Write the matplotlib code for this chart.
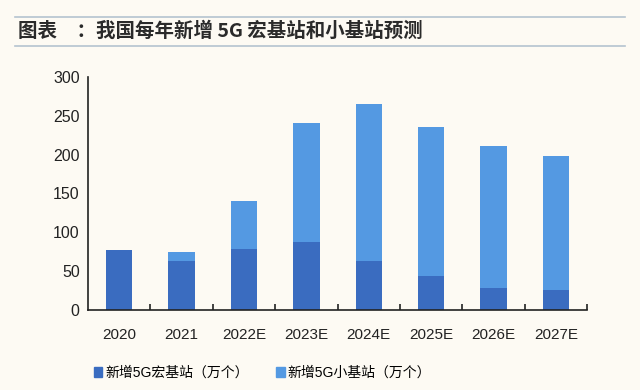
import matplotlib.pyplot as plt
from matplotlib.lines import Line2D
from matplotlib.patches import Patch

plt.rcParams['font.family'] = ['Liberation Sans', 'Noto Sans CJK SC', 'DejaVu Sans']

# data (unit: 10k stations)
years = ['2020', '2021', '2022E', '2023E', '2024E', '2025E', '2026E', '2027E']
macro = [77, 63, 78, 88, 63, 44, 28, 26]
small = [0, 12, 62, 153, 202, 192, 183, 172]
labels = ['新增5G宏基站（万个）', '新增5G小基站（万个）']
title = '图表　：我国每年新增 5G 宏基站和小基站预测'

c_macro = '#3a6cc0'
c_small = '#5499e2'
bg = '#fdfaf3'

fig = plt.figure(figsize=(6.4, 3.9), dpi=100, facecolor=bg)
ax = fig.add_axes([0.1375, 0.205, 0.78, 0.598])
ax.set_facecolor(bg)

x = range(len(years))
ax.bar(x, macro, width=0.42, color=c_macro, label=labels[0])
ax.bar(x, small, width=0.42, bottom=macro, color=c_small, label=labels[1])

ax.set_xlim(-0.5, len(years) - 0.5)
ax.set_ylim(0, 300)
ax.set_yticks(range(0, 301, 50))
ax.set_xticks(list(x))
ax.set_xticklabels(years)
ax.set_xticks([i + 0.5 for i in range(len(years))], minor=True)
ax.tick_params(axis='x', which='major', length=0, labelsize=11, pad=13, colors='#222222')
ax.tick_params(axis='x', which='minor', direction='in', length=4, width=1.2, color='#222222')
ax.tick_params(axis='y', length=0, labelsize=11.5, pad=6, colors='#222222')
for s in ['top', 'right']:
    ax.spines[s].set_visible(False)
for s in ['left', 'bottom']:
    ax.spines[s].set_linewidth(1.2)
    ax.spines[s].set_color('#222222')

handles = [Patch(color=c_macro), Patch(color=c_small)]
fig.legend(handles, labels, loc='center', bbox_to_anchor=(0.41, 0.044), ncol=2,
           frameon=False, fontsize=10, handlelength=0.6, handleheight=0.8,
           handletextpad=0.2, columnspacing=2.0)

# title with rules above and below
fig.add_artist(Line2D([0.023, 0.977], [1 - 17 / 390] * 2, color='#b4c3d0', lw=1.2))
fig.add_artist(Line2D([0.023, 0.977], [1 - 46 / 390] * 2, color='#b4c3d0', lw=1.2))
fig.text(0.028, 1 - 31 / 390, title, fontsize=14, fontweight='bold', color='#2a2a2a',
         va='center', ha='left', family=['Noto Sans CJK SC', 'DejaVu Sans'])

fig.savefig('out.png', dpi=100, facecolor=bg)
